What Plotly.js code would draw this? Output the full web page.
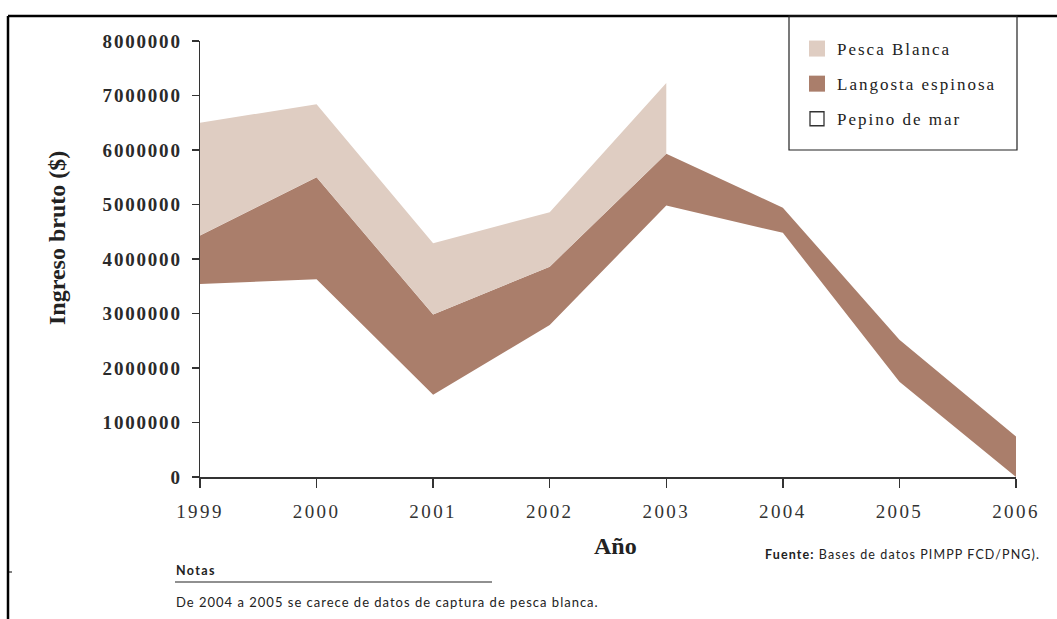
<!DOCTYPE html>
<html>
<head>
<meta charset="utf-8">
<script src="https://cdn.plot.ly/plotly-3.0.1.min.js"></script>
<style>
  html, body { margin: 0; padding: 0; background: #fff; }
  #chart { width: 1057px; height: 619px; }
  .xtick text { letter-spacing: 2.4px; }
  .ytick text { letter-spacing: 1.8px; }
  .legendtext { letter-spacing: 2px; }
</style>
</head>
<body>
<div id="chart"></div>
<script>
// Data (US$)
const years = [1999, 2000, 2001, 2002, 2003, 2004, 2005, 2006];
const pepinoDeMar = [3540000, 3630000, 1510000, 2790000, 4980000, 4480000, 1750000, 0];
const langostaEspinosa = [890000, 1870000, 1470000, 1070000, 950000, 460000, 770000, 745000];
// Pesca blanca: no data 2004-2006
const pescaBlancaYears = [1999, 2000, 2001, 2002, 2003];
const pescaBlanca = [2070000, 1340000, 1310000, 1000000, 1300000];

const seriesNames = ['Pesca Blanca', 'Langosta espinosa', 'Pepino de mar'];
const yTickVals = [0, 1000000, 2000000, 3000000, 4000000, 5000000, 6000000, 7000000, 8000000];
const yTickText = ['0', '1000000', '2000000', '3000000', '4000000', '5000000', '6000000', '7000000', '8000000'];
const colPesca = '#dfcdc2';
const colLangosta = '#aa7e6b';

// stacked tops
const langTop = years.map((y, i) => pepinoDeMar[i] + langostaEspinosa[i]);
const pescaTop = pescaBlancaYears.map((y, i) => langTop[years.indexOf(y)] + pescaBlanca[i]);
const langTopPart = pescaBlancaYears.map(y => langTop[years.indexOf(y)]);

const traces = [
  { x: years, y: pepinoDeMar, type: 'scatter', mode: 'lines', fill: 'tozeroy',
    fillcolor: '#ffffff', line: { width: 0 }, showlegend: false, hoverinfo: 'skip' },
  { x: years, y: langTop, type: 'scatter', mode: 'lines', fill: 'tonexty',
    fillcolor: colLangosta, line: { width: 0 }, showlegend: false, hoverinfo: 'skip' },
  { x: pescaBlancaYears.concat(pescaBlancaYears.slice().reverse()),
    y: pescaTop.concat(langTopPart.slice().reverse()),
    type: 'scatter', mode: 'lines', fill: 'toself',
    fillcolor: colPesca, line: { width: 0 }, showlegend: false, hoverinfo: 'skip' },
  // legend entries
  { x: [null], y: [null], type: 'scatter', mode: 'markers', name: seriesNames[0], legendgroup: 'a',
    marker: { symbol: 'square', size: 16, color: colPesca, line: { width: 0 } } },
  { x: [null], y: [null], type: 'scatter', mode: 'markers', name: seriesNames[1], legendgroup: 'b',
    marker: { symbol: 'square', size: 16, color: colLangosta, line: { width: 0 } } },
  { x: [null], y: [null], type: 'scatter', mode: 'markers', name: seriesNames[2], legendgroup: 'c',
    marker: { symbol: 'square', size: 14, color: '#ffffff', line: { width: 1.3, color: '#333' } } }
];

// pixel -> paper helpers (plot area: x 200..1016, y 41..477)
const L = 200, R = 1016, T = 41, B = 477;
const px = v => (v - L) / (R - L);
const py = v => (B - v) / (B - T);

const serif = 'Liberation Serif, Times New Roman, serif';
const sans = 'Lato, Open Sans, sans-serif';

const layout = {
  width: 1057, height: 619,
  margin: { l: L, r: 1057 - R, t: T, b: 619 - B },
  paper_bgcolor: '#fff', plot_bgcolor: '#fff',
  showlegend: true,
  legend: {
    x: px(797), y: py(31), xanchor: 'left', yanchor: 'top',
    bgcolor: 'rgba(0,0,0,0)', borderwidth: 0,
    traceorder: 'grouped', tracegroupgap: 10,
    font: { family: serif, size: 17, color: '#222' }
  },
  xaxis: {
    range: [1999, 2006], tickvals: years, ticktext: years.map(String),
    showgrid: false, zeroline: false, showline: true, linecolor: '#333', linewidth: 1.5,
    ticks: 'outside', ticklen: 9, tickcolor: '#333', tickwidth: 1.5,
    ticklabelstandoff: 8,
    tickfont: { family: serif, size: 19, color: '#333' }, automargin: false
  },
  yaxis: {
    range: [0, 8000000], tickvals: yTickVals, ticktext: yTickText,
    showgrid: false, zeroline: false, showline: true, linecolor: '#333', linewidth: 1.5,
    ticks: 'outside', ticklen: 7, tickcolor: '#333', tickwidth: 1.5,
    ticklabelstandoff: 6,
    tickfont: { family: serif, size: 19, color: '#2a2a2a', weight: 'bold' }, automargin: false
  },
  shapes: [
    // outer frame: top and left
    { type: 'line', xref: 'paper', yref: 'paper', x0: px(8), x1: px(1057), y0: py(16), y1: py(16), line: { color: '#000', width: 2.5 } },
    { type: 'line', xref: 'paper', yref: 'paper', x0: px(8), x1: px(8), y0: py(16), y1: py(619), line: { color: '#000', width: 2.5 } },
    { type: 'line', xref: 'paper', yref: 'paper', x0: px(8), x1: px(12), y0: py(572), y1: py(572), line: { color: '#000', width: 1 } },
    // legend box
    { type: 'rect', xref: 'paper', yref: 'paper', x0: px(789), x1: px(1017), y0: py(16), y1: py(150), line: { color: '#222', width: 1.2 }, fillcolor: 'rgba(0,0,0,0)' },
    // notes rule
    { type: 'line', xref: 'paper', yref: 'paper', x0: px(175), x1: px(492), y0: py(582), y1: py(582), line: { color: '#222', width: 1.2 } }
  ],
  annotations: [
    { text: '<b>Ingreso bruto ($)</b>', xref: 'paper', yref: 'paper', x: px(57), y: py(238),
      textangle: -90, showarrow: false, xanchor: 'center', yanchor: 'middle',
      font: { family: serif, size: 24, color: '#222' } },
    { text: '<b>Año</b>', xref: 'paper', yref: 'paper', x: px(615), y: py(546),
      showarrow: false, xanchor: 'center', yanchor: 'middle',
      font: { family: serif, size: 24, color: '#222' } },
    { text: '<span style="letter-spacing:1.1px"><b>Fuente:</b> Bases de datos PIMPP FCD/PNG).</span>', xref: 'paper', yref: 'paper', x: px(1042), y: py(554),
      showarrow: false, xanchor: 'right', yanchor: 'middle',
      font: { family: sans, size: 12.5, color: '#222' } },
    { text: '<span style="letter-spacing:1.4px"><b>Notas</b></span>', xref: 'paper', yref: 'paper', x: px(174), y: py(570),
      showarrow: false, xanchor: 'left', yanchor: 'middle',
      font: { family: sans, size: 12.5, color: '#222' } },
    { text: '<span style="letter-spacing:1px">De 2004 a 2005 se carece de datos de captura de pesca blanca.</span>', xref: 'paper', yref: 'paper', x: px(174), y: py(602),
      showarrow: false, xanchor: 'left', yanchor: 'middle',
      font: { family: sans, size: 13, color: '#222' } }
  ]
};

Plotly.newPlot('chart', traces, layout, { staticPlot: true, displayModeBar: false });
</script>
</body>
</html>
